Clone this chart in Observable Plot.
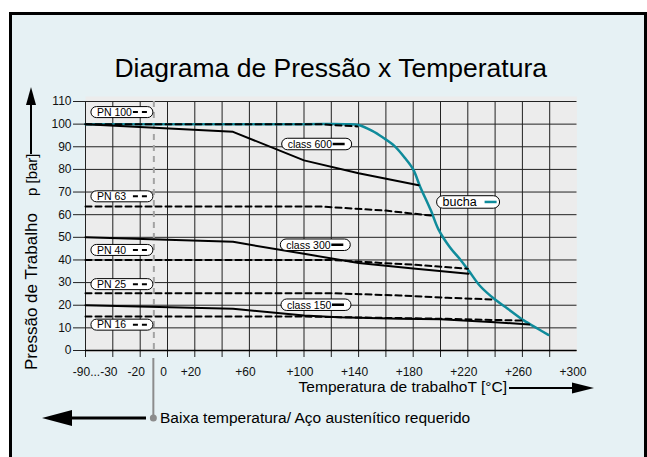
<!DOCTYPE html>
<html><head><meta charset="utf-8">
<script src="https://cdn.jsdelivr.net/npm/d3@7"></script>
<script src="https://cdn.jsdelivr.net/npm/@observablehq/plot@0.6"></script>
<style>
html,body{margin:0;padding:0;background:#fff;}
#wrap{position:relative;width:647px;height:457px;overflow:hidden;}
#panel{position:absolute;left:9px;top:12px;width:638px;height:470px;border:3px solid #000;background:#e6f1f4;box-sizing:border-box;}
#chart{position:absolute;left:0;top:0;}
</style></head><body>
<div id="wrap"><div id="panel"></div><div id="chart"></div></div>
<script>
// ---- data (temperature °C, pressure bar) ----
const buchaT = [-90, 100, 130, 140, 150, 158, 166, 174, 180, 185, 193, 198.5, 207, 215, 221, 229, 240, 249, 261, 271, 279];
const buchaP = [100, 100, 100, 99.6, 97, 94, 90.5, 85, 80, 72.5, 61.8, 53.5, 45.5, 39.8, 35, 28.5, 22.5, 18.6, 13.3, 9.7, 6.9];
const class600T = [-90, 48, 100, 140, 184];
const class600P = [100, 96.6, 84, 78.3, 73];
const class300T = [-90, 48, 100, 140, 180, 220.5];
const class300P = [50, 48, 42.7, 38.7, 36.2, 33.9];
const class150T = [-90, 48, 100, 125, 170, 200, 240, 265];
const class150P = [20, 18.4, 15.5, 14.7, 14, 13.8, 12.5, 11.5];
const pn100T = [-90, 110, 139];
const pn100P = [100, 100, 99];
const pn63T = [-90, 112, 160, 193];
const pn63P = [63.6, 63.6, 61.8, 59.6];
const pn40T = [-90, 120, 156, 180, 220];
const pn40P = [40, 40, 38.7, 37.9, 36.1];
const pn25T = [-90, 120, 170, 205, 239];
const pn25P = [25.3, 25.3, 24.3, 23.3, 22.5];
const pn16T = [-90, 100, 150, 205, 239, 261];
const pn16P = [15, 15, 14.5, 14, 13.5, 13.2];

const yTicks = [0, 10, 20, 30, 40, 50, 60, 70, 80, 90, 100, 110];
const xGridTicks = [-90, -30, -20, 0, 20, 40, 60, 80, 100, 120, 140, 160, 180, 200, 220, 240, 260, 280];
const xLabelTicks = [-60, -20, 0, 20, 60, 100, 140, 180, 220, 260, 300];
const xLabelTexts = ["-90...-30", "-20", "0", "+20", "+60", "+100", "+140", "+180", "+220", "+260", "+300"];
const baixaTemp = -10;

const titleText = "Diagrama de Pressão x Temperatura";
const yTitle = "Pressão de Trabalho";
const yUnit = "p [bar]";
const xTitle = "Temperatura de trabalhoT [°C]";
const noteText = "Baixa temperatura/ Aço austenítico requerido";

// legend pills: label, anchor (T, p) of left edge / vertical centre, kind
const pills = [
  {label: "PN 100", T: -77, p: 105.1, kind: "pn"},
  {label: "PN 63", T: -77, p: 67.9, kind: "pn"},
  {label: "PN 40", T: -77, p: 44.2, kind: "pn"},
  {label: "PN 25", T: -77, p: 29.1, kind: "pn"},
  {label: "PN 16", T: -77, p: 11.2, kind: "pn"},
  {label: "class 600", T: 84, p: 91, kind: "class"},
  {label: "class 300", T: 83, p: 46.5, kind: "class"},
  {label: "class 150", T: 83.5, p: 20, kind: "class"},
  {label: "bucha", T: 197.5, p: 65.4, kind: "bucha"}
];

const TEAL = "#0f8b9b";
const FONT = "'Liberation Sans', Arial, Helvetica, sans-serif";

function rows(T, P) { return T.map((t, i) => ({T: t, p: P[i]})); }
const labelMap = new Map(xLabelTicks.map((t, i) => [t, xLabelTexts[i]]));

const solid = {x: "T", y: "p", stroke: "#000", strokeWidth: 2};
const dashed = {x: "T", y: "p", stroke: "#000", strokeWidth: 2, strokeDasharray: "6,4"};

const chart = Plot.plot({
  width: 647, height: 457,
  marginLeft: 85, marginRight: 70.5, marginTop: 101, marginBottom: 107,
  style: {fontFamily: FONT, background: "transparent", overflow: "visible", color: "#000"},
  x: {type: "linear", domain: [-90, -30, -20, 300], range: [85, 112.3, 139.7, 576.5]},
  y: {domain: [0, 110]},
  marks: [
    Plot.frame({fill: "#ececec", stroke: null, insetTop: -5, insetBottom: -2}),
    Plot.gridY({ticks: yTicks, stroke: "#222", strokeOpacity: 1, strokeWidth: 1}),
    Plot.gridX({ticks: xGridTicks, stroke: "#222", strokeOpacity: 1, strokeWidth: 1}),
    Plot.axisY({ticks: yTicks, tickSize: 12, tickPadding: 2, fontSize: 12, label: null, stroke: "#222", fill: "#111"}),
    Plot.axisX({ticks: xGridTicks, tickSize: 7, tickFormat: () => "", label: null, stroke: "#222"}),
    Plot.axisX({ticks: xLabelTicks, tickSize: 0, tickPadding: 16.5, tickFormat: d => labelMap.get(d), fontSize: 12, dx: -4, label: null, fill: "#111"}),
    Plot.ruleY([0], {stroke: "#000", strokeWidth: 1.5}),
    Plot.ruleX([baixaTemp], {y1: 110, y2: 0, stroke: "#a3a3a3", strokeWidth: 2, strokeDasharray: "6,5"}),
    Plot.line(rows(buchaT, buchaP), {x: "T", y: "p", stroke: TEAL, strokeWidth: 2.5, curve: "catmull-rom"}),
    Plot.line(rows(pn100T, pn100P), dashed),
    Plot.line(rows(pn63T, pn63P), dashed),
    Plot.line(rows(pn40T, pn40P), dashed),
    Plot.line(rows(pn25T, pn25P), dashed),
    Plot.line(rows(pn16T, pn16P), dashed),
    Plot.line(rows(class600T, class600P), solid),
    Plot.line(rows(class300T, class300P), solid),
    Plot.line(rows(class150T, class150P), solid)
  ]
});
document.getElementById("chart").appendChild(chart);

// ---- annotations ----
const sx = chart.scale("x"), sy = chart.scale("y");
const svg = d3.select(chart);
const g = svg.append("g").attr("font-family", FONT).attr("fill", "#000").attr("text-anchor", "start");

// title
g.append("text").attr("x", (sx.apply(-90) + sx.apply(300)) / 2).attr("y", 77)
  .attr("text-anchor", "middle").attr("font-size", 26.5).text(titleText);

// y title + arrow
g.append("text").attr("transform", "translate(37,370) rotate(-90)").attr("text-anchor", "start").attr("font-size", 17).text(yTitle);
g.append("text").attr("transform", "translate(37,196) rotate(-90)").attr("text-anchor", "start").attr("font-size", 15).text(yUnit);
g.append("line").attr("x1", 31).attr("x2", 31).attr("y1", 154).attr("y2", 103).attr("stroke", "#000").attr("stroke-width", 2);
g.append("path").attr("d", "M31,87 L26,105 L36,105 Z").attr("fill", "#000");

// x title + arrow
g.append("text").attr("x", 507).attr("y", 392).attr("text-anchor", "end").attr("font-size", 15.5).text(xTitle);
g.append("line").attr("x1", 509).attr("x2", 574).attr("y1", 388).attr("y2", 388).attr("stroke", "#000").attr("stroke-width", 2);
g.append("path").attr("d", "M594,388 L572,382.5 L572,393.5 Z").attr("fill", "#000");

// low temperature note
const bx = sx.apply(baixaTemp);
g.append("line").attr("x1", bx).attr("x2", bx).attr("y1", sy.apply(0) + 8).attr("y2", 418).attr("stroke", "#8c8c8c").attr("stroke-width", 2);
g.append("circle").attr("cx", bx).attr("cy", 418).attr("r", 3.5).attr("fill", "#8c8c8c");
g.append("line").attr("x1", 146).attr("x2", 70).attr("y1", 418).attr("y2", 418).attr("stroke", "#000").attr("stroke-width", 3);
g.append("path").attr("d", "M42,418 L72,410 L72,426 Z").attr("fill", "#000");
g.append("text").attr("x", 160).attr("y", 423).attr("text-anchor", "start").attr("font-size", 15.5).text(noteText);

// legend pills
const pillSpec = {
  pn: {w: 62, h: 11, fs: 10.5, s0: 20, s1: 6, stroke: "#000", sw: 2, dash: "5,4"},
  class: {w: 70, h: 11.5, fs: 10.5, s0: 19, s1: 7, stroke: "#000", sw: 2.5, dash: null},
  bucha: {w: 63, h: 12.5, fs: 12.5, s0: 15, s1: 3, stroke: TEAL, sw: 2.5, dash: null}
};
for (const d of pills) {
  const s = pillSpec[d.kind];
  const x0 = sx.apply(d.T), yc = sy.apply(d.p);
  g.append("rect").attr("x", x0).attr("y", yc - s.h / 2).attr("width", s.w).attr("height", s.h)
    .attr("rx", s.h / 2).attr("fill", "#fff").attr("stroke", "#000").attr("stroke-width", 1);
  g.append("text").attr("x", x0 + 6).attr("y", yc + s.fs * 0.36).attr("text-anchor", "start").attr("font-size", s.fs).text(d.label);
  const ln = g.append("line").attr("x1", x0 + s.w - s.s0).attr("x2", x0 + s.w - s.s1)
    .attr("y1", yc).attr("y2", yc).attr("stroke", s.stroke).attr("stroke-width", s.sw);
  if (s.dash) ln.attr("stroke-dasharray", s.dash);
}
</script>
</body></html>
